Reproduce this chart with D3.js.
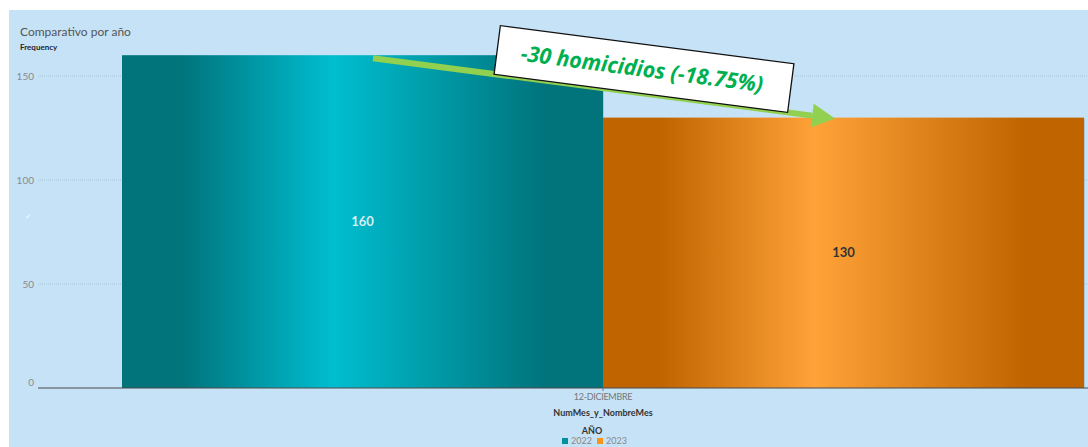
<!DOCTYPE html>
<html>
<head>
<meta charset="utf-8">
<script src="https://cdn.jsdelivr.net/npm/d3@7"></script>
<style>
  body { margin: 0; background: #fff; }
  svg { display: block; font-family: "Lato", "Open Sans", sans-serif; }
</style>
</head>
<body>
<div id="chart"></div>
<script>
//Chart data
var months = ["12-DICIEMBRE"];
var years = ["2022", "2023"];
var frequency = [160, 130];
var yTicks = [0, 50, 100, 150];
var annotationText = "-30 homicidios (-18.75%)";

var W = 1088, H = 447;
var margin = { top: 10, left: 9 };

var svg = d3.select("#chart").append("svg")
  .attr("width", W)
  .attr("height", H);

var defs = svg.append("defs");

//Gradients for the shiny bars
function barGradient(id, dark, light) {
  var g = defs.append("linearGradient").attr("id", id)
    .attr("x1", "0%").attr("x2", "100%").attr("y1", "0%").attr("y2", "0%");
  [[0, dark], [0.12, dark], [0.44, light], [0.88, dark], [1, dark]].forEach(function(s) {
    g.append("stop").attr("offset", s[0]).attr("stop-color", s[1]);
  });
}
barGradient("g2022", "#00737b", "#00bed0");
barGradient("g2023", "#c06400", "#ffa238");

var color = d3.scaleOrdinal().domain(years).range(["#00929c", "#f7941d"]);

//Panel background
svg.append("rect")
  .attr("x", margin.left).attr("y", margin.top)
  .attr("width", W - margin.left).attr("height", H - margin.top)
  .attr("fill", "#c6e2f7");

var y = d3.scaleLinear().domain([0, 150]).range([388, 76]);
var x0 = d3.scaleBand().domain(months).range([122, 1084]);
var x1 = d3.scaleBand().domain(years).range([0, x0.bandwidth()]);

//Gridlines
svg.selectAll(".grid").data(yTicks.filter(function(d) { return d > 0; }))
  .enter().append("line")
  .attr("x1", 38).attr("x2", W)
  .attr("y1", function(d) { return y(d); })
  .attr("y2", function(d) { return y(d); })
  .attr("stroke", "#a8c4d8")
  .attr("stroke-dasharray", "1,1");

//Y tick labels
svg.selectAll(".ytick").data(yTicks)
  .enter().append("text")
  .attr("x", 34)
  .attr("y", function(d) { return d === 0 ? y(d) - 6 : y(d); })
  .attr("dy", "0.35em")
  .attr("text-anchor", "end")
  .attr("font-size", 10)
  .attr("fill", "#8a8a8a")
  .text(function(d) { return d; });

//Bars
var bars = svg.selectAll(".bar")
  .data(years.map(function(k, i) { return { year: k, value: frequency[i], month: months[0] }; }))
  .enter().append("g");

bars.append("rect")
  .attr("x", function(d) { return x0(d.month) + x1(d.year) + 1; })
  .attr("y", function(d) { return y(d.value) + 1; })
  .attr("width", x1.bandwidth())
  .attr("height", function(d) { return y(0) - y(d.value) - 1; })
  .attr("fill", "#000")
  .attr("opacity", 0.12);

bars.append("rect")
  .attr("x", function(d) { return x0(d.month) + x1(d.year); })
  .attr("y", function(d) { return y(d.value); })
  .attr("width", x1.bandwidth())
  .attr("height", function(d) { return y(0) - y(d.value); })
  .attr("fill", function(d) { return "url(#g" + d.year + ")"; });

bars.append("text")
  .attr("x", function(d) { return x0(d.month) + x1(d.year) + x1.bandwidth() * 0.5; })
  .attr("y", function(d) { return (y(d.value) + y(0)) / 2; })
  .attr("dy", "0.35em")
  .attr("text-anchor", "middle")
  .attr("font-size", 13)
  .attr("font-weight", "bold")
  .attr("fill", function(d, i) { return i === 0 ? "#d8eef0" : "#333"; })
  .text(function(d) { return d.value; });

//Baseline
svg.append("line")
  .attr("x1", 38).attr("x2", W)
  .attr("y1", y(0)).attr("y2", y(0))
  .attr("stroke", "#4a4a4a");

//X tick
svg.append("line")
  .attr("x1", x0(months[0]) + x0.bandwidth() / 2)
  .attr("x2", x0(months[0]) + x0.bandwidth() / 2)
  .attr("y1", y(0)).attr("y2", y(0) + 3)
  .attr("stroke", "#777");

svg.append("text")
  .attr("x", x0(months[0]) + x0.bandwidth() / 2)
  .attr("y", 400)
  .attr("text-anchor", "middle")
  .attr("font-size", 9)
  .attr("fill", "#777")
  .attr("letter-spacing", "-0.3")
  .text(months[0]);

svg.append("text")
  .attr("x", 603).attr("y", 416)
  .attr("text-anchor", "middle")
  .attr("font-size", 9)
  .attr("font-weight", "bold")
  .attr("fill", "#333")
  .text("NumMes_y_NombreMes");

//Titles
svg.append("text")
  .attr("x", 20).attr("y", 36)
  .attr("font-size", 12)
  .attr("fill", "#555")
  .text("Comparativo por año");

svg.append("text")
  .attr("x", 20).attr("y", 50)
  .attr("font-size", 8)
  .attr("font-weight", "bold")
  .attr("fill", "#222")
  .text("Frequency");

svg.append("text")
  .attr("x", 28).attr("y", 219)
  .attr("font-size", 8)
  .attr("fill", "#fff")
  .attr("text-anchor", "middle")
  .text("✓");

//Legend
svg.append("text")
  .attr("x", 592).attr("y", 434)
  .attr("text-anchor", "middle")
  .attr("font-size", 9)
  .attr("font-weight", "bold")
  .attr("fill", "#333")
  .text("AÑO");

var legend = svg.selectAll(".legend").data(years)
  .enter().append("g")
  .attr("transform", function(d, i) { return "translate(" + (562 + i * 35) + ",438)"; });

legend.append("rect")
  .attr("width", 6).attr("height", 6)
  .attr("fill", color);

legend.append("text")
  .attr("x", 9).attr("y", 6)
  .attr("font-size", 9)
  .attr("fill", "#888")
  .text(function(d) { return d; });

//Annotation arrow
var ax1 = 373, ay1 = y(frequency[0]) + 3;
var ax2 = 835, ay2 = y(frequency[1]) + 1;
var ang = Math.atan2(ay2 - ay1, ax2 - ax1);
var headLen = 23, headW = 12;
var bx = ax2 - headLen * Math.cos(ang), by = ay2 - headLen * Math.sin(ang);

svg.append("line")
  .attr("x1", ax1).attr("y1", ay1)
  .attr("x2", bx).attr("y2", by)
  .attr("stroke", "#92d050")
  .attr("stroke-width", 6);

svg.append("path")
  .attr("d", "M" + ax2 + "," + ay2 +
    "L" + (bx + headW * Math.sin(ang)) + "," + (by - headW * Math.cos(ang)) +
    "L" + (bx - headW * Math.sin(ang)) + "," + (by + headW * Math.cos(ang)) + "Z")
  .attr("fill", "#92d050");

//Annotation box
var note = svg.append("g")
  .attr("transform", "translate(644,69) rotate(7.4)");

note.append("rect")
  .attr("x", -148).attr("y", -24.5)
  .attr("width", 296).attr("height", 49)
  .attr("fill", "#fff")
  .attr("stroke", "#111")
  .attr("stroke-width", 1.3);

note.append("text")
  .attr("x", -2).attr("y", 0)
  .attr("dy", "0.35em")
  .attr("text-anchor", "middle")
  .attr("font-family", "'Open Sans', sans-serif")
  .attr("font-size", 22)
  .attr("font-weight", "bold")
  .attr("font-style", "italic")
  .attr("fill", "#00b050")
  .attr("textLength", 244)
  .attr("lengthAdjust", "spacingAndGlyphs")
  .text(annotationText);
</script>
</body>
</html>
